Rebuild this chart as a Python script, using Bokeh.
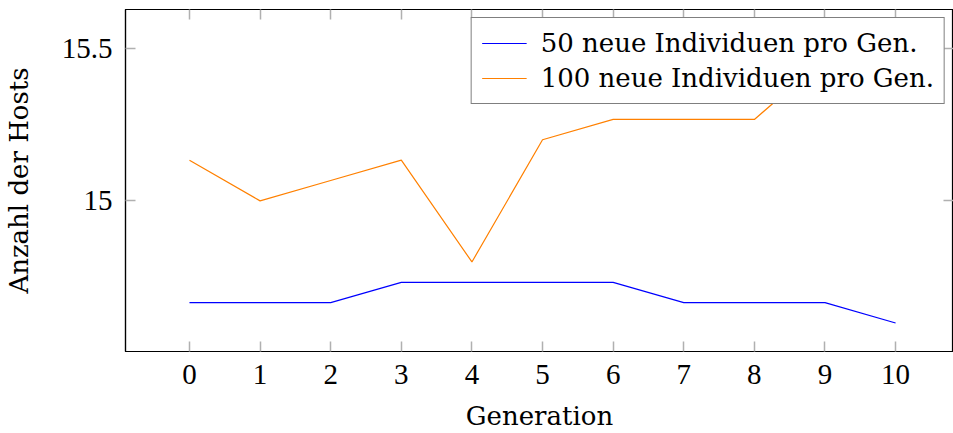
from bokeh.plotting import figure
from bokeh.models import LinearAxis, FixedTicker, Range1d, Legend, LegendItem
from bokeh.embed import file_html
from bokeh.resources import INLINE

generations = [0, 1, 2, 3, 4, 5, 6, 7, 8, 9, 10]
hosts_50 = [14.6667, 14.6667, 14.6667, 14.7333, 14.7333, 14.7333, 14.7333, 14.6667, 14.6667, 14.6667, 14.6]
hosts_100 = [15.1333, 15.0, 15.0667, 15.1333, 14.8, 15.2, 15.2667, 15.2667, 15.2667, 15.4667, 15.5333]
x_ticks = [0, 1, 2, 3, 4, 5, 6, 7, 8, 9, 10]
y_ticks = [15, 15.5]
y_tick_labels = {15: "15", 15.5: "15.5"}
series_names = ["50 neue Individuen pro Gen.", "100 neue Individuen pro Gen."]

NUM_FONT = "Liberation Serif"
NUM_FS = "29px"
WORD_FONT = "DejaVu Serif"
WORD_FS = "26px"
TICK_COL = "#b0b0b0"

p = figure(width=953, height=433, output_backend="svg", toolbar_location=None,
           x_range=Range1d(-0.906, 10.82), y_range=Range1d(14.5067, 15.6267),
           min_border_left=10, min_border_right=0, min_border_top=9, min_border_bottom=0)
p.background_fill_color = "white"
p.border_fill_color = "white"
p.xgrid.visible = False
p.ygrid.visible = False
p.outline_line_color = "black"
p.outline_line_width = 1.2

def style_axis(ax, labels=True):
    ax.axis_line_color = "black"
    ax.axis_line_width = 1.2
    ax.major_tick_line_color = TICK_COL
    ax.major_tick_line_width = 1.5
    ax.major_tick_in = 10
    ax.major_tick_out = 0
    ax.minor_tick_line_color = None
    ax.major_label_text_font = NUM_FONT
    ax.major_label_text_font_size = NUM_FS
    ax.major_label_text_color = "black" if labels else None
    ax.axis_label_text_font = WORD_FONT
    ax.axis_label_text_font_size = WORD_FS
    ax.axis_label_text_font_style = "normal"
    ax.axis_label_text_color = "black"

xax = p.xaxis[0]
xax.ticker = FixedTicker(ticks=x_ticks)
xax.axis_label = "Generation"
style_axis(xax)
xax.major_label_standoff = 13
xax.axis_label_standoff = 14

yax = p.yaxis[0]
yax.ticker = FixedTicker(ticks=y_ticks)
yax.major_label_overrides = y_tick_labels
yax.axis_label = "Anzahl der Hosts"
style_axis(yax)
yax.major_label_standoff = 13
yax.axis_label_standoff = 25

top = LinearAxis(ticker=FixedTicker(ticks=x_ticks))
style_axis(top, labels=False)
top.major_label_overrides = {t: "" for t in x_ticks}
top.major_label_standoff = 0
p.add_layout(top, "above")
right = LinearAxis(ticker=FixedTicker(ticks=y_ticks))
style_axis(right, labels=False)
right.major_label_overrides = {t: "" for t in y_ticks}
right.major_label_standoff = 0
p.add_layout(right, "right")

r1 = p.line(generations, hosts_50, line_color="#0000ff", line_width=1.2)
r2 = p.line(generations, hosts_100, line_color="#ff8000", line_width=1.2)

legend = Legend(items=[LegendItem(label=series_names[0], renderers=[r1]),
                       LegendItem(label=series_names[1], renderers=[r2])],
                location="top_right")
legend.label_text_font = WORD_FONT
legend.label_text_font_size = WORD_FS
legend.label_text_color = "black"
legend.glyph_width = 45
legend.glyph_height = 30
legend.label_height = 30
legend.label_standoff = 14
legend.spacing = 5
legend.padding = 10
legend.margin = 8
legend.border_line_color = "black"
legend.border_line_width = 1.2
legend.background_fill_alpha = 1
p.add_layout(legend, "center")

open("out.html", "w").write(file_html(p, INLINE))
